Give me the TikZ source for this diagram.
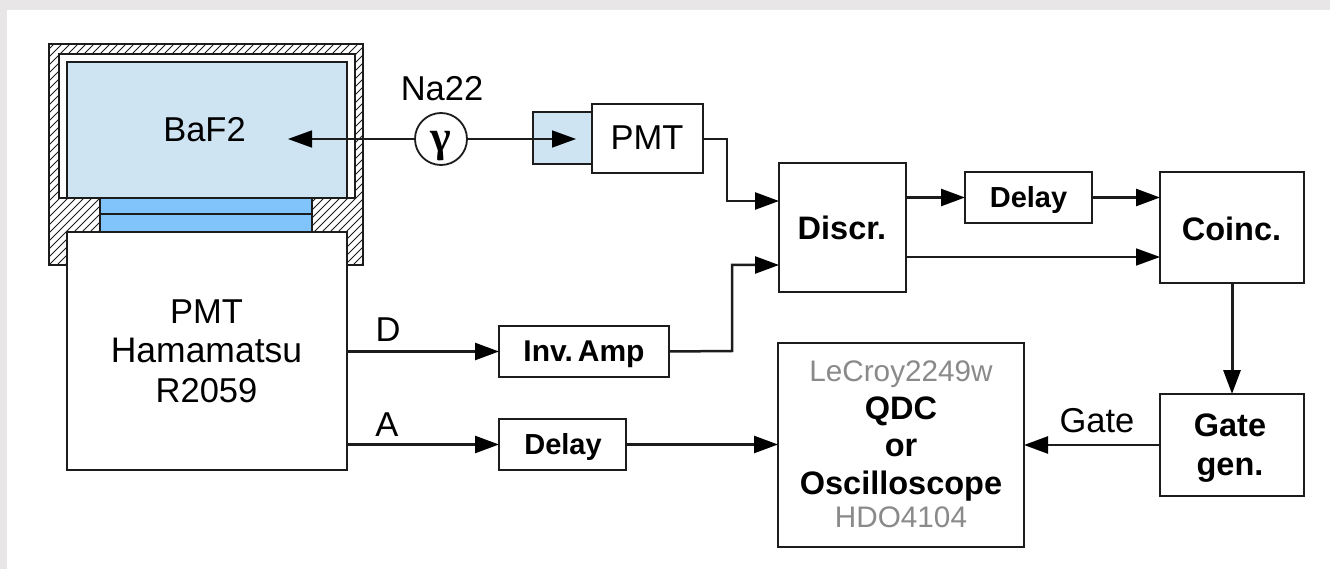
\documentclass[tikz,border=0pt]{standalone}
\usepackage{fontspec}
\setmainfont{Liberation Sans}
\newfontfamily\gamfont{Liberation Serif}
\usetikzlibrary{arrows.meta}
\definecolor{lineC}{HTML}{1C1C1C}
\definecolor{crystal}{HTML}{CEE4F3}
\definecolor{window}{HTML}{80C4FB}
\definecolor{edgeC}{HTML}{E8E6E6}
\definecolor{soft}{HTML}{8A8A8A}
\tikzset{
  wh/.style 2 args={minimum width=#1pt,minimum height=#2pt},
  box/.style={draw=lineC,line width=2.4pt,fill=white,inner sep=0pt,outer sep=0pt,anchor=north west,align=center,text=black},
  thinbox/.style={draw=lineC,line width=1.8pt,inner sep=0pt,outer sep=0pt,anchor=north west},
  conn/.style={draw=lineC,line width=2.5pt,-{Triangle[length=24pt,width=17pt,color=black]}},
  thinconn/.style={draw=lineC,line width=1.7pt,-{Triangle[length=24pt,width=17pt,color=black]}},
  lab/.style={inner sep=0pt,text=black,font=\fontsize{34.5}{38}\selectfont},
  blab/.style={inner sep=0pt,align=center,text=black,font=\fontsize{32.5}{39.5}\selectfont\bfseries},
  slab/.style={inner sep=0pt,text=black,font=\fontsize{29}{34}\selectfont\bfseries},
}
\begin{document}
\begin{tikzpicture}[x=1pt,y=-1pt]
\useasboundingbox (0,0) rectangle (1330,569);
\fill[edgeC] (0,0) rectangle (1330,569);
\fill[white] (7,10) rectangle (1330,569);
% housing with hatching
\begin{scope}
  \clip (49,44) rectangle (363,265);
  \foreach \k in {0,8,...,600}{
    \draw[lineC,line width=0.9pt] (49+\k-240,265+0) -- ++(240,-240);
  }
\end{scope}
\draw[lineC,line width=1.8pt] (49,44) rectangle (363,265);
\node[thinbox,fill=white,wh={296}{144}] (cavity) at (59,54) {};
\node[thinbox,fill=crystal,wh={280}{136}] (crystalbox) at (67,62) {};
\draw[lineC,line width=1.8pt] (cavity.south west) -- (cavity.south east);
\node[thinbox,fill=window,wh={212}{16}] (win1) at (100,198) {};
\node[thinbox,fill=window,wh={212}{18}] (win2) at (100,214) {};
\node[thinbox,fill=white,wh={280}{238},align=center,text=black] (pmtbig) at (67,232) {};
\node[lab,align=center] (pmttext) at (206.5,351) {PMT\\[1.5pt]{\fontsize{35.5}{38}\selectfont Hamamatsu}\\[1.5pt]R2059};
\node[lab] (baf) at (204.5,130) {BaF2};
% small detector
\node[thinbox,fill=crystal,wh={59}{52}] (smallcrystal) at (533,112) {};
\node[thinbox,fill=white,wh={111}{69}] (pmtsmall) at (592,104) {};
\node[lab] (pmtsmalltext) at (647,137.5) {PMT};
% source
\node[draw=lineC,line width=1.8pt,circle,minimum size=52pt,inner sep=0pt,outer sep=0pt,fill=white] (src) at (441,139) {};
\node[inner sep=0pt,font=\fontsize{44}{44}\selectfont\gamfont\bfseries] (gam) at (441,146) {γ};
\node[lab] (na) at (442,89) {Na22};
\coordinate (tipleft) at (288,139);
\coordinate (tipright) at (576,139);
\draw[thinconn] (src.west) -- (tipleft);
\draw[thinconn] (src.east) -- (tipright);
% blocks
\node[box,wh={127}{129}] (discr) at (779,163) {};
\node[blab] (discrtext) at (842,228) {Discr.};
\node[box,wh={127}{51}] (delayT) at (965,172) {};
\node[slab] (delayTtext) at (1028.5,200) {Delay};
\node[box,wh={144}{111}] (coinc) at (1160,172) {};
\node[blab] (coinctext) at (1231.5,228.5) {Coinc.};
\node[box,wh={170}{51}] (inv) at (499,326) {};
\node[slab,font=\fontsize{30}{34}\selectfont\bfseries] (invtext) at (584,354) {Inv.\,Amp};
\node[box,wh={127}{51}] (delayB) at (499,419) {};
\node[slab] (delayBtext) at (563,446.5) {Delay};
\node[box,wh={144}{102}] (gate) at (1160,394) {};
\node[blab] (gatetext) at (1230,448) {Gate\\gen.};
\node[box,wh={246}{204}] (qdc) at (778,343) {};
\node[inner sep=0pt,align=center,font=\fontsize{32.5}{37.5}\selectfont] (qdctext) at (901,444.5)
  {{\color{soft}\fontsize{29.7}{37.5}\selectfont LeCroy2249w}\\
   \textbf{QDC}\\\textbf{or}\\\textbf{Oscilloscope}\\[-4pt]
   {\color{soft}\fontsize{29.7}{37.5}\selectfont HDO4104}};
% connectors
\coordinate (a1) at (727,139);
\coordinate (a2) at (727,201);
\coordinate (b1) at (732,351);
\coordinate (b2) at (732,265);
\coordinate (c1) at (906,257);
\coordinate (v) at (1232,0);
\draw[conn] (pmtsmall.east|-a1) -- (a1) -- (a2) -- (a2-|discr.west);
\draw[conn] (inv.east) -- (b1) -- (b2) -- (b2-|discr.west);
\draw[conn] (discr.east|-delayT.west) -- (delayT.west);
\draw[conn] (delayT.east) -- (delayT.east-|coinc.west);
\draw[thinconn] (discr.east|-c1) -- (c1-|coinc.west);
\draw[conn,line width=3pt] (coinc.south-|v) -- (gate.north-|v);
\draw[conn] (gate.west) -- (gate.west-|qdc.east);
\draw[conn] (delayB.east) -- (delayB.east-|qdc.west);
\draw[conn] (pmtbig.east|-inv.west) -- (inv.west);
\draw[conn] (pmtbig.east|-delayB.west) -- (delayB.west);
\node[lab] (dlab) at (388,330) {D};
\node[lab] (alab) at (387,425) {A};
\node[lab] (glab) at (1097,421) {Gate};
\end{tikzpicture}
\end{document}
